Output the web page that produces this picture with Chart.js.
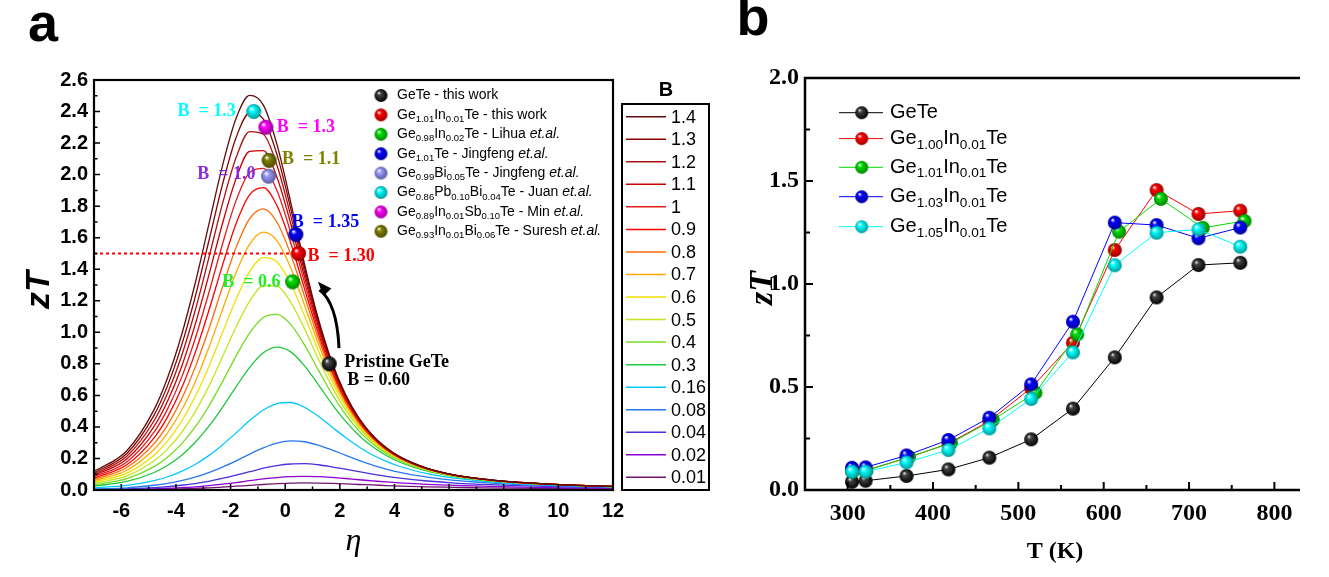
<!DOCTYPE html>
<html>
<head>
<meta charset="utf-8">
<script src="https://cdn.jsdelivr.net/npm/chart.js@4.4.1/dist/chart.umd.min.js"></script>
<style>
  html, body { margin: 0; padding: 0; background: #fff; }
  #wrap { position: relative; width: 1329px; height: 577px; overflow: hidden; }
  #left { position: absolute; left: 0; top: 0; }
  #right { position: absolute; left: 740px; top: 0; }
</style>
</head>
<body>
<div id="wrap">
  <canvas id="left" width="740" height="577"></canvas>
  <canvas id="right" width="589" height="577"></canvas>
</div>
<script>
// ---------- panel a: zT vs reduced Fermi level, one curve per B ----------
const ETA = [-7, -5.8, -4.8, -4.3, -3.8, -3.3, -2.8, -2.3, -1.8, -1.3, -0.8, -0.3, 0.2, 0.7, 1.2, 1.7, 2.2, 2.7, 3.2, 3.7, 4.2, 5.2, 6.2, 7.2, 8.2, 10.2, 12];

const B_LABELS = ['1.4', '1.3', '1.2', '1.1', '1', '0.9', '0.8', '0.7', '0.6', '0.5', '0.4', '0.3', '0.16', '0.08', '0.04', '0.02', '0.01'];

const zt_140 = [0.117, 0.249, 0.510, 0.715, 0.980, 1.308, 1.681, 2.054, 2.356, 2.502, 2.441, 2.190, 1.826, 1.439, 1.094, 0.817, 0.608, 0.456, 0.346, 0.268, 0.210, 0.137, 0.095, 0.070, 0.053, 0.033, 0.023];
const zt_130 = [0.108, 0.231, 0.475, 0.665, 0.914, 1.222, 1.576, 1.935, 2.234, 2.391, 2.352, 2.127, 1.786, 1.415, 1.080, 0.809, 0.603, 0.453, 0.345, 0.266, 0.210, 0.137, 0.095, 0.070, 0.053, 0.033, 0.023];
const zt_120 = [0.100, 0.214, 0.439, 0.616, 0.847, 1.135, 1.469, 1.813, 2.107, 2.273, 2.256, 2.058, 1.740, 1.387, 1.064, 0.799, 0.598, 0.450, 0.342, 0.265, 0.209, 0.136, 0.095, 0.070, 0.053, 0.033, 0.023];
const zt_110 = [0.092, 0.196, 0.403, 0.566, 0.779, 1.047, 1.359, 1.687, 1.974, 2.148, 2.152, 1.982, 1.690, 1.356, 1.045, 0.788, 0.591, 0.446, 0.340, 0.263, 0.207, 0.136, 0.094, 0.069, 0.052, 0.033, 0.023];
const zt_100 = [0.083, 0.178, 0.367, 0.516, 0.711, 0.958, 1.248, 1.557, 1.835, 2.014, 2.039, 1.897, 1.633, 1.321, 1.024, 0.776, 0.583, 0.441, 0.337, 0.261, 0.206, 0.135, 0.094, 0.069, 0.052, 0.033, 0.023];
const zt_090 = [0.075, 0.160, 0.331, 0.465, 0.643, 0.868, 1.135, 1.423, 1.689, 1.873, 1.917, 1.803, 1.568, 1.280, 0.999, 0.761, 0.574, 0.435, 0.333, 0.259, 0.204, 0.134, 0.093, 0.069, 0.052, 0.033, 0.023];
const zt_080 = [0.067, 0.143, 0.294, 0.414, 0.574, 0.776, 1.019, 1.285, 1.537, 1.721, 1.783, 1.698, 1.495, 1.232, 0.969, 0.743, 0.563, 0.428, 0.329, 0.256, 0.202, 0.133, 0.093, 0.069, 0.052, 0.033, 0.023];
const zt_070 = [0.058, 0.125, 0.258, 0.364, 0.504, 0.684, 0.901, 1.142, 1.378, 1.559, 1.635, 1.580, 1.409, 1.175, 0.934, 0.721, 0.550, 0.420, 0.323, 0.252, 0.200, 0.132, 0.092, 0.068, 0.051, 0.033, 0.023];
const zt_060 = [0.050, 0.107, 0.221, 0.312, 0.434, 0.590, 0.780, 0.995, 1.210, 1.385, 1.473, 1.446, 1.310, 1.108, 0.890, 0.693, 0.533, 0.409, 0.316, 0.247, 0.197, 0.130, 0.091, 0.067, 0.051, 0.033, 0.023];
const zt_050 = [0.042, 0.089, 0.185, 0.261, 0.363, 0.495, 0.657, 0.843, 1.034, 1.198, 1.294, 1.292, 1.192, 1.025, 0.836, 0.659, 0.511, 0.395, 0.307, 0.241, 0.192, 0.128, 0.090, 0.067, 0.050, 0.032, 0.022];
const zt_040 = [0.033, 0.072, 0.148, 0.209, 0.291, 0.398, 0.531, 0.686, 0.849, 0.996, 1.094, 1.114, 1.050, 0.922, 0.765, 0.612, 0.481, 0.375, 0.294, 0.232, 0.186, 0.124, 0.088, 0.065, 0.050, 0.032, 0.022];
const zt_030 = [0.025, 0.054, 0.111, 0.157, 0.219, 0.301, 0.403, 0.523, 0.654, 0.778, 0.870, 0.906, 0.876, 0.789, 0.671, 0.548, 0.438, 0.346, 0.274, 0.219, 0.176, 0.119, 0.085, 0.063, 0.048, 0.031, 0.022];
const zt_016 = [0.013, 0.029, 0.059, 0.084, 0.118, 0.162, 0.218, 0.286, 0.362, 0.440, 0.507, 0.548, 0.555, 0.525, 0.469, 0.401, 0.334, 0.273, 0.222, 0.182, 0.149, 0.104, 0.075, 0.057, 0.044, 0.029, 0.021];
const zt_008 = [0.007, 0.014, 0.030, 0.042, 0.059, 0.081, 0.110, 0.145, 0.185, 0.228, 0.267, 0.297, 0.311, 0.306, 0.285, 0.255, 0.221, 0.188, 0.158, 0.133, 0.112, 0.082, 0.061, 0.048, 0.037, 0.025, 0.018];
const zt_004 = [0.003, 0.007, 0.015, 0.021, 0.030, 0.041, 0.055, 0.073, 0.094, 0.116, 0.138, 0.155, 0.165, 0.167, 0.160, 0.147, 0.132, 0.116, 0.101, 0.087, 0.075, 0.057, 0.044, 0.036, 0.029, 0.020, 0.015];
const zt_002 = [0.002, 0.004, 0.007, 0.011, 0.015, 0.020, 0.028, 0.037, 0.047, 0.059, 0.070, 0.079, 0.085, 0.087, 0.085, 0.080, 0.073, 0.065, 0.058, 0.051, 0.045, 0.036, 0.029, 0.024, 0.020, 0.014, 0.011];
const zt_001 = [0.001, 0.002, 0.004, 0.005, 0.007, 0.010, 0.014, 0.018, 0.024, 0.029, 0.035, 0.040, 0.043, 0.045, 0.044, 0.042, 0.039, 0.035, 0.032, 0.028, 0.025, 0.020, 0.017, 0.014, 0.012, 0.009, 0.007];

const ZT_CURVES = [zt_140, zt_130, zt_120, zt_110, zt_100, zt_090, zt_080, zt_070, zt_060, zt_050, zt_040, zt_030, zt_016, zt_008, zt_004, zt_002, zt_001];

// reported compositions placed on the curves
const STUDY_NAMES = [
  'GeTe - this work',
  'Ge_{1.01}In_{0.01}Te - this work',
  'Ge_{0.98}In_{0.02}Te - Lihua *et.al.*',
  'Ge_{1.01}Te - Jingfeng *et.al.*',
  'Ge_{0.99}Bi_{0.05}Te - Jingfeng *et.al.*',
  'Ge_{0.86}Pb_{0.10}Bi_{0.04}Te - Juan *et.al.*',
  'Ge_{0.89}In_{0.01}Sb_{0.10}Te - Min *et.al.*',
  'Ge_{0.93}In_{0.01}Bi_{0.06}Te - Suresh *et.al.*'
];
const STUDY_ETA = [1.61, 0.49, 0.27, 0.39, -0.61, -1.15, -0.71, -0.59];
const STUDY_ZT = [0.80, 1.50, 1.32, 1.62, 1.99, 2.40, 2.30, 2.09];
const STUDY_B = ['0.60', '1.30', '0.6', '1.35', '1.0', '1.3', '1.3', '1.1'];

const OPT_ZT = 1.5;        // dotted guide level
const OPT_ETA_END = 0.5;

const LEFT_X_TICKS = [-6, -4, -2, 0, 2, 4, 6, 8, 10, 12];
const LEFT_X_MINOR = [-7, -5, -3, -1, 1, 3, 5, 7, 9, 11];
const LEFT_Y_TICKS = [0, 0.2, 0.4, 0.6, 0.8, 1.0, 1.2, 1.4, 1.6, 1.8, 2.0, 2.2, 2.4, 2.6];
const LEFT_Y_MINOR = [0.1, 0.3, 0.5, 0.7, 0.9, 1.1, 1.3, 1.5, 1.7, 1.9, 2.1, 2.3, 2.5];

// ---------- panel b: measured zT vs temperature ----------
const SERIES_NAMES = ['GeTe', 'Ge_{1.00}In_{0.01}Te', 'Ge_{1.01}In_{0.01}Te', 'Ge_{1.03}In_{0.01}Te', 'Ge_{1.05}In_{0.01}Te'];
const T_GeTe   = [305, 321, 369, 418, 466, 515, 564, 613, 662, 711, 760];
const zT_GeTe  = [0.040, 0.045, 0.068, 0.100, 0.157, 0.246, 0.395, 0.644, 0.935, 1.092, 1.103];
const T_In100  = [305, 321, 369, 418, 466, 515, 564, 613, 662, 711, 760];
const zT_In100 = [0.095, 0.095, 0.155, 0.225, 0.335, 0.495, 0.715, 1.165, 1.456, 1.340, 1.356];
const T_In101  = [306, 322, 372, 421, 470, 520, 569, 618, 667, 716, 765];
const zT_In101 = [0.090, 0.095, 0.160, 0.228, 0.340, 0.472, 0.756, 1.254, 1.413, 1.273, 1.306];
const T_In103  = [305, 321, 369, 418, 466, 515, 564, 613, 662, 711, 760];
const zT_In103 = [0.108, 0.110, 0.168, 0.243, 0.351, 0.513, 0.817, 1.298, 1.286, 1.222, 1.274];
const T_In105  = [305, 321, 369, 418, 466, 515, 564, 613, 662, 711, 760];
const zT_In105 = [0.089, 0.089, 0.134, 0.194, 0.299, 0.442, 0.668, 1.091, 1.249, 1.265, 1.181];

const RIGHT_X_TICKS = [300, 400, 500, 600, 700, 800];
const RIGHT_X_MINOR = [350, 450, 550, 650, 750];
const RIGHT_Y_TICKS = [0, 0.5, 1.0, 1.5, 2.0];
const RIGHT_Y_MINOR = [0.25, 0.75, 1.25, 1.75];

// ---------- styling ----------
const B_COLORS = ['#5e0c0c', '#8b0000', '#ad1010', '#c80000', '#e41b1b', '#ff0000', '#ff6a00', '#ffaa00',
                  '#f0e000', '#c4e61e', '#74dc1e', '#1ec83c', '#00c8ff', '#2878f0', '#4632dc', '#8c00d2', '#6e146e'];
const STUDY_COLORS = ['#000000', '#ff0000', '#00e000', '#0000ff', '#9a9aff', '#00ffff', '#ff00ff', '#808000'];
const STUDY_TEXT = ['#000000', '#ff0000', '#22ee22', '#0000ff', '#8a2be2', '#00ffff', '#ff00ff', '#808000'];
// label placement relative to each ball: [dx, dy, align]
const STUDY_LABEL_POS = [[15, -2, 'left'], [9, 3, 'left'], [-12, 0, 'right'], [-4, -12, 'left'],
                         [-13, -2, 'right'], [-18, 0, 'right'], [11, 0, 'left'], [13, -1, 'left']];
const SERIES_COLORS = ['#000000', '#ff0000', '#00dd00', '#0000ff', '#00ffff'];

const SANS = '"Liberation Sans", Arial, sans-serif';
const SERIF = '"Liberation Serif", "Times New Roman", serif';

function rgb(hex) {
  const n = parseInt(hex.slice(1), 16);
  return [(n >> 16) & 255, (n >> 8) & 255, n & 255];
}

// shaded sphere used as a point marker
const ballCache = {};
function ball(color, r) {
  const key = color + r;
  if (ballCache[key]) return ballCache[key];
  const s = Math.ceil(r * 2 + 2);
  const c = document.createElement('canvas');
  c.width = s; c.height = s;
  const g = c.getContext('2d');
  const cx = s / 2, cy = s / 2;
  const [R, G, B] = rgb(color);
  const grad = g.createRadialGradient(cx - r * 0.35, cy - r * 0.42, r * 0.05, cx, cy, r);
  if (R + G + B === 0) {
    grad.addColorStop(0, '#e8e8e8');
    grad.addColorStop(0.25, '#444');
    grad.addColorStop(1, '#000');
  } else {
    grad.addColorStop(0, '#ffffff');
    grad.addColorStop(0.3, color);
    grad.addColorStop(1, `rgb(${R * 0.6 | 0},${G * 0.6 | 0},${B * 0.6 | 0})`);
  }
  g.fillStyle = grad;
  g.beginPath();
  g.arc(cx, cy, r, 0, Math.PI * 2);
  g.fill();
  ballCache[key] = c;
  return c;
}

// text with _{sub} and *italic* runs
function richText(ctx, str, x, y, size, color) {
  const re = /_\{([^}]*)\}|\*([^*]*)\*|([^_*]+)/g;
  let m, cx = x;
  ctx.fillStyle = color;
  ctx.textAlign = 'left';
  ctx.textBaseline = 'middle';
  while ((m = re.exec(str))) {
    let t, sz = size, dy = 0, style = '';
    if (m[1] !== undefined) { t = m[1]; sz = size * 0.68; dy = size * 0.32; }
    else if (m[2] !== undefined) { t = m[2]; style = 'italic '; }
    else t = m[3];
    ctx.font = `${style}${sz}px ${SANS}`;
    ctx.fillText(t, cx, y + dy);
    cx += ctx.measureText(t).width;
  }
}

function drawTicks(ctx, scale, values, len, area, axis) {
  ctx.beginPath();
  values.forEach(v => {
    const p = scale.getPixelForValue(v);
    if (axis === 'x') { ctx.moveTo(p, area.bottom); ctx.lineTo(p, area.bottom - len); }
    else { ctx.moveTo(area.left, p); ctx.lineTo(area.left + len, p); }
  });
  ctx.stroke();
}

function fixedTicks(values) {
  return s => { s.ticks = values.map(v => ({ value: v })); };
}

// ---------- chart a ----------
const curveSets = ZT_CURVES.map((vals, i) => ({
  label: 'B = ' + B_LABELS[i],
  data: vals.map((v, k) => ({ x: ETA[k], y: v })),
  borderColor: B_COLORS[i],
  borderWidth: 1.3,
  pointRadius: 0,
  cubicInterpolationMode: 'monotone',
  fill: false,
  order: 10 + i
}));

const guideSet = {
  label: 'optimum',
  data: [{ x: -7, y: OPT_ZT }, { x: OPT_ETA_END, y: OPT_ZT }],
  borderColor: '#ff0000',
  borderWidth: 2,
  borderDash: [3, 3],
  pointRadius: 0,
  order: 5
};

const studySet = {
  label: 'studies',
  data: STUDY_ETA.map((e, i) => ({ x: e, y: STUDY_ZT[i] })),
  showLine: false,
  pointRadius: 7.5,
  pointStyle: STUDY_COLORS.map(c => ball(c, 7.5)),
  order: 0
};

const leftDecor = {
  id: 'leftDecor',
  afterDraw(chart) {
    const { ctx, chartArea: a, scales: { x, y } } = chart;
    ctx.save();
    ctx.strokeStyle = '#000';
    ctx.lineWidth = 1.5;
    drawTicks(ctx, x, LEFT_X_TICKS, 6, a, 'x');
    drawTicks(ctx, x, LEFT_X_MINOR, 3.5, a, 'x');
    drawTicks(ctx, y, LEFT_Y_TICKS, 6, a, 'y');
    drawTicks(ctx, y, LEFT_Y_MINOR, 3.5, a, 'y');
    ctx.lineWidth = 2.2;
    ctx.strokeRect(a.left, a.top, a.right - a.left, a.bottom - a.top);

    // labels next to the balls
    STUDY_B.forEach((b, i) => {
      const px = x.getPixelForValue(STUDY_ETA[i]);
      const py = y.getPixelForValue(STUDY_ZT[i]);
      const [dx, dy, al] = STUDY_LABEL_POS[i];
      ctx.fillStyle = STUDY_TEXT[i];
      ctx.textBaseline = 'middle';
      ctx.textAlign = al;
      ctx.font = `bold 18px ${SERIF}`;
      if (i === 0) {
        ctx.fillText('Pristine GeTe', px + dx, py + dy);
        ctx.fillText('B = ' + b, px + dx + 3, py + dy + 18);
      } else {
        ctx.fillText('B  = ' + b, px + dx, py + dy);
      }
    });

    // curved arrow pointing towards higher B
    const x0 = x.getPixelForValue(1.97), y0 = y.getPixelForValue(0.90);
    const x1 = x.getPixelForValue(1.2), y1 = y.getPixelForValue(1.32);
    const qx = x0 - 2, qy = (y0 + y1) / 2 - 12;
    ctx.strokeStyle = '#000';
    ctx.lineWidth = 3;
    ctx.beginPath();
    ctx.moveTo(x0, y0);
    ctx.quadraticCurveTo(qx, qy, x1 + 1.5, y1 + 8);
    ctx.stroke();
    const ang = Math.atan2(y1 - qy, x1 - qx);
    ctx.fillStyle = '#000';
    ctx.beginPath();
    ctx.moveTo(x1, y1);
    ctx.lineTo(x1 - 14 * Math.cos(ang) + 5.5 * Math.sin(ang), y1 - 14 * Math.sin(ang) - 5.5 * Math.cos(ang));
    ctx.lineTo(x1 - 14 * Math.cos(ang) - 5.5 * Math.sin(ang), y1 - 14 * Math.sin(ang) + 5.5 * Math.cos(ang));
    ctx.closePath();
    ctx.fill();

    // legend of the reported compositions
    STUDY_NAMES.forEach((n, i) => {
      const ly = 95.5 + i * 19.4;
      const img = ball(STUDY_COLORS[i], 6.5);
      ctx.drawImage(img, 381 - img.width / 2, ly - img.height / 2);
      richText(ctx, n, 397, ly, 14, '#000');
    });

    // B legend box beside the plot
    ctx.strokeStyle = '#000';
    ctx.lineWidth = 2;
    ctx.strokeRect(622, 104, 87, 386);
    ctx.fillStyle = '#000';
    ctx.font = `bold 20px ${SANS}`;
    ctx.textAlign = 'center';
    ctx.textBaseline = 'middle';
    ctx.fillText('B', 666, 90);
    B_LABELS.forEach((b, i) => {
      const ly = 116.7 + i * 22.54;
      ctx.strokeStyle = B_COLORS[i];
      ctx.lineWidth = 1.5;
      ctx.beginPath();
      ctx.moveTo(626, ly);
      ctx.lineTo(666, ly);
      ctx.stroke();
      ctx.fillStyle = '#000';
      ctx.font = `18px ${SANS}`;
      ctx.textAlign = 'left';
      ctx.fillText(b, 671, ly + 1);
    });

    // axis titles and panel letter
    ctx.fillStyle = '#000';
    ctx.font = `bold 54px ${SANS}`;
    ctx.textAlign = 'center';
    ctx.textBaseline = 'middle';
    ctx.fillText('a', 43, 26);
    ctx.font = `italic 32px ${SERIF}`;
    ctx.fillText('η', (a.left + a.right) / 2, 542);
    ctx.save();
    ctx.translate(40, 290);
    ctx.rotate(-Math.PI / 2);
    ctx.font = `bold italic 34px ${SANS}`;
    ctx.fillText('zT', 0, 0);
    ctx.restore();
    ctx.restore();
  }
};

new Chart(document.getElementById('left'), {
  type: 'line',
  data: { datasets: [...curveSets, guideSet, studySet] },
  options: {
    responsive: false,
    animation: false,
    events: [],
    layout: { padding: { top: 80, right: 127, bottom: 0, left: 0 } },
    plugins: { legend: { display: false }, tooltip: { enabled: false } },
    scales: {
      x: {
        type: 'linear', min: -7, max: 12,
        afterFit: s => { s.height = 87; },
        afterBuildTicks: fixedTicks(LEFT_X_TICKS),
        ticks: { color: '#000', padding: 9, font: { family: SANS, weight: 'bold', size: 20 } },
        grid: { display: false, drawTicks: false },
        border: { display: false }
      },
      y: {
        type: 'linear', min: 0, max: 2.6,
        afterFit: s => { s.width = 94; },
        afterBuildTicks: fixedTicks(LEFT_Y_TICKS),
        ticks: { color: '#000', padding: 6, callback: v => v.toFixed(1), font: { family: SANS, weight: 'bold', size: 20 } },
        grid: { display: false, drawTicks: false },
        border: { display: false }
      }
    }
  },
  plugins: [leftDecor]
});

// ---------- chart b ----------
const seriesT = [T_GeTe, T_In100, T_In101, T_In103, T_In105];
const seriesZT = [zT_GeTe, zT_In100, zT_In101, zT_In103, zT_In105];
const seriesSets = SERIES_NAMES.map((n, i) => ({
  label: n,
  data: seriesT[i].map((t, k) => ({ x: t, y: seriesZT[i][k] })),
  borderColor: SERIES_COLORS[i],
  borderWidth: 1,
  pointRadius: 7,
  pointStyle: ball(SERIES_COLORS[i], 7),
  tension: 0,
  fill: false,
  order: 4 - i
}));

const rightDecor = {
  id: 'rightDecor',
  afterDraw(chart) {
    const { ctx, chartArea: a, scales: { x, y } } = chart;
    ctx.save();
    ctx.strokeStyle = '#000';
    ctx.lineWidth = 2;
    drawTicks(ctx, x, RIGHT_X_TICKS, 8, a, 'x');
    drawTicks(ctx, x, RIGHT_X_MINOR, 5, a, 'x');
    drawTicks(ctx, y, RIGHT_Y_TICKS, 8, a, 'y');
    drawTicks(ctx, y, RIGHT_Y_MINOR, 5, a, 'y');
    ctx.lineWidth = 2.5;
    ctx.beginPath();
    ctx.moveTo(a.right, a.top);
    ctx.lineTo(a.left, a.top);
    ctx.lineTo(a.left, a.bottom);
    ctx.lineTo(a.right, a.bottom);
    ctx.stroke();

    // legend
    SERIES_NAMES.forEach((n, i) => {
      const ly = [112.7, 138.6, 167.3, 196.7, 226.7][i];
      ctx.strokeStyle = SERIES_COLORS[i];
      ctx.lineWidth = 1;
      ctx.beginPath();
      ctx.moveTo(99, ly);
      ctx.lineTo(143, ly);
      ctx.stroke();
      const img = ball(SERIES_COLORS[i], 6.5);
      ctx.drawImage(img, 121.7 - img.width / 2, ly - img.height / 2);
      richText(ctx, n, 150, ly, 20, '#000');
    });

    ctx.fillStyle = '#000';
    ctx.textAlign = 'center';
    ctx.textBaseline = 'middle';
    ctx.font = `bold 54px ${SANS}`;
    ctx.fillText('b', 13, 20);
    ctx.font = `bold 24px ${SERIF}`;
    ctx.fillText('T (K)', 315, 552);
    ctx.save();
    ctx.translate(23, 288);
    ctx.rotate(-Math.PI / 2);
    ctx.font = `bold italic 34px ${SERIF}`;
    ctx.fillText('zT', 0, 0);
    ctx.restore();
    ctx.restore();
  }
};

new Chart(document.getElementById('right'), {
  type: 'line',
  data: { datasets: seriesSets },
  options: {
    responsive: false,
    animation: false,
    events: [],
    layout: { padding: { top: 78, right: 29, bottom: 0, left: 0 } },
    plugins: { legend: { display: false }, tooltip: { enabled: false } },
    scales: {
      x: {
        type: 'linear', min: 250, max: 830,
        afterFit: s => { s.height = 87; },
        afterBuildTicks: fixedTicks(RIGHT_X_TICKS),
        ticks: { color: '#000', padding: 9, font: { family: SERIF, weight: 'bold', size: 24 } },
        grid: { display: false, drawTicks: false },
        border: { display: false }
      },
      y: {
        type: 'linear', min: 0, max: 2,
        afterFit: s => { s.width = 65; },
        afterBuildTicks: fixedTicks(RIGHT_Y_TICKS),
        ticks: { color: '#000', padding: 6, callback: v => v.toFixed(1), font: { family: SERIF, weight: 'bold', size: 24 } },
        grid: { display: false, drawTicks: false },
        border: { display: false }
      }
    }
  },
  plugins: [rightDecor]
});
</script>
</body>
</html>
